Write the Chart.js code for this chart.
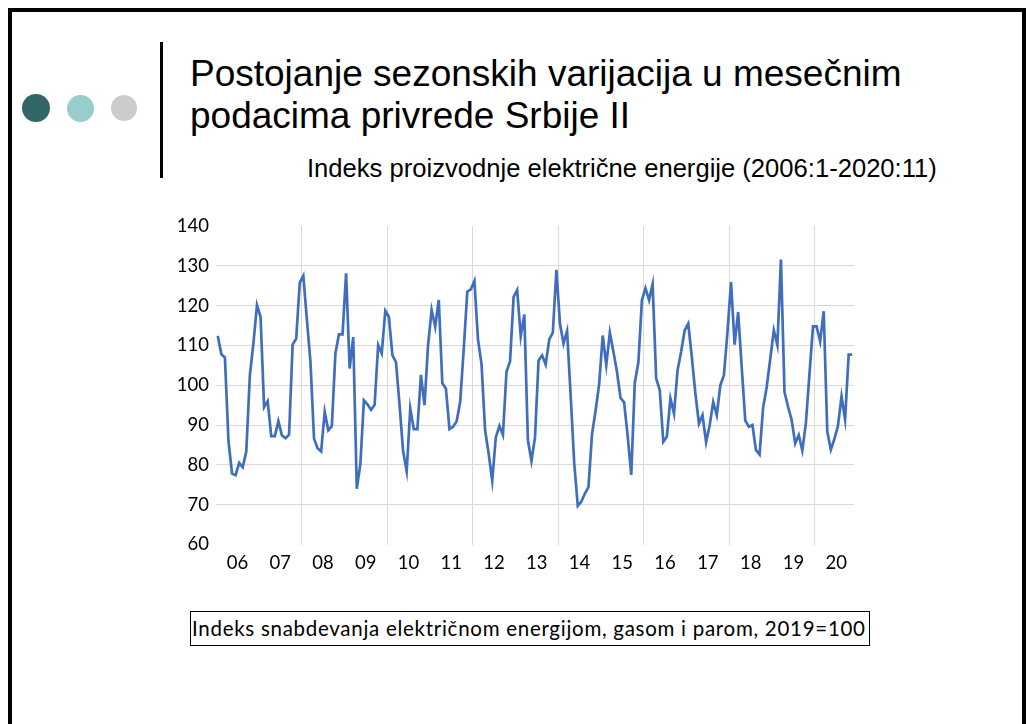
<!DOCTYPE html>
<html>
<head>
<meta charset="utf-8">
<script src="https://cdn.jsdelivr.net/npm/chart.js@4.4.1/dist/chart.umd.min.js"></script>
<style>
  html, body { margin: 0; padding: 0; }
  body { width: 1034px; height: 724px; overflow: hidden; background: #fff; position: relative; font-family: "Liberation Sans", Arial, sans-serif; }
  #frame { position: absolute; left: 8px; top: 8px; width: 1018px; height: 740px; border: 4px solid #000; border-bottom: none; box-sizing: border-box; }
  .dot { position: absolute; border-radius: 50%; }
  #bar { position: absolute; left: 160px; top: 42px; width: 3px; height: 136px; background: #000; }
  #title { position: absolute; left: 190px; top: 53px; font-size: 37px; line-height: 42px; color: #000; white-space: nowrap; }
  #subtitle { position: absolute; left: 307px; top: 153px; font-size: 25.6px; line-height: 30px; color: #000; white-space: nowrap; }
  #chartBox { position: absolute; left: 140px; top: 200px; width: 730px; height: 390px; }
  #note { position: absolute; left: 190px; top: 611px; width: 680px; height: 35px; border: 1px solid #000; box-sizing: border-box; font-family: Lato, "Open Sans", sans-serif; font-size: 20.5px; letter-spacing: 0.72px; line-height: 33px; padding-left: 1px; color: #000; white-space: nowrap; overflow: hidden; }
</style>
</head>
<body>
<div id="frame"></div>
<div class="dot" style="left:22px;top:94px;width:28px;height:28px;background:#336666"></div>
<div class="dot" style="left:67px;top:95px;width:27px;height:27px;background:#99CCCC"></div>
<div class="dot" style="left:111px;top:95px;width:26px;height:26px;background:#CCCCCC"></div>
<div id="bar"></div>
<div id="title">Postojanje sezonskih varijacija u mesečnim<br>podacima privrede Srbije II</div>
<div id="subtitle">Indeks proizvodnje električne energije (2006:1-2020:11)</div>
<div id="chartBox"><canvas id="c" width="730" height="390"></canvas></div>
<div id="note">Indeks snabdevanja električnom energijom, gasom i parom, 2019=100</div>
<script>
// Monthly index values, 2006:1 - 2020:11
const values2006 = [112.4, 107.8, 107.0, 86.0, 77.8, 77.4, 80.5, 79.4, 83.4, 102.5, 110.5, 120.1];
const values2007 = [117.2, 94.5, 96.0, 87.2, 87.2, 91.0, 87.4, 86.7, 87.6, 110.2, 111.7, 125.8];
const values2008 = [127.5, 116.5, 105.9, 86.6, 84.2, 83.4, 93.3, 88.7, 89.7, 108.0, 112.8, 112.8];
const values2009 = [128.1, 104.2, 112.1, 74.0, 80.2, 96.2, 95.2, 93.8, 95.1, 110.1, 108.0, 118.7];
const values2010 = [117.2, 107.5, 105.8, 95.0, 83.4, 78.4, 94.2, 89.0, 89.0, 102.6, 95.0, 110.1];
const values2011 = [118.9, 114.7, 121.4, 100.5, 99.2, 89.0, 89.6, 90.9, 95.7, 109.0, 123.5, 124.1];
const values2012 = [126.2, 111.5, 105.3, 88.7, 82.8, 76.0, 86.9, 89.8, 87.5, 103.4, 106.0, 122.2];
const values2013 = [123.9, 112.3, 117.8, 86.3, 81.0, 86.9, 106.2, 107.5, 105.2, 111.5, 113.2, 129.0];
const values2014 = [115.5, 110.5, 113.6, 97.5, 80.5, 69.7, 70.8, 72.8, 74.4, 87.7, 93.6, 100.3];
const values2015 = [112.5, 105.1, 113.2, 108.4, 103.4, 96.8, 95.7, 87.3, 77.5, 100.7, 105.7, 121.4];
const values2016 = [124.4, 121.4, 125.4, 101.7, 98.8, 85.8, 87.1, 96.7, 92.9, 103.8, 108.4, 113.8];
const values2017 = [115.5, 107.1, 97.9, 90.4, 92.5, 85.7, 89.9, 95.8, 92.5, 100.0, 102.5, 113.4];
const values2018 = [125.9, 110.2, 118.4, 104.5, 91.1, 89.6, 90.0, 83.7, 82.6, 94.4, 99.5, 106.6];
const values2019 = [113.8, 110.1, 131.6, 98.3, 94.6, 91.3, 85.4, 87.5, 83.6, 90.5, 102.8, 114.8];
const values2020 = [114.8, 111.0, 118.6, 88.4, 83.8, 86.5, 89.8, 97.2, 91.4, 107.7, 107.7];

const yearLabels = ['06','07','08','09','10','11','12','13','14','15','16','17','18','19','20'];
const yTickValues = [60, 70, 80, 90, 100, 110, 120, 130, 140];

const values = [].concat(values2006, values2007, values2008, values2009, values2010,
  values2011, values2012, values2013, values2014, values2015, values2016, values2017,
  values2018, values2019, values2020);

const labelPos = yearLabels.map((_, k) => 5.5 + 12 * k);
const gridPos = [];
for (let k = 0; k < yearLabels.length; k += 2) { const p = 23.5 + 12 * k; if (p < values.length) gridPos.push(p); }

const tickFont = { family: 'Lato', size: 18.5 };

new Chart(document.getElementById('c'), {
  type: 'line',
  data: {
    datasets: [{
      data: values.map((v, i) => ({ x: i, y: v })),
      borderColor: '#3F6EBF',
      borderWidth: 2.7,
      pointRadius: 0,
      tension: 0,
      fill: false
    }]
  },
  options: {
    responsive: false,
    devicePixelRatio: 1,
    animation: false,
    layout: { padding: { top: 26, right: 16, left: 0, bottom: 0 } },
    plugins: { legend: { display: false }, tooltip: { enabled: false }, title: { display: false } },
    scales: {
      x: {
        type: 'linear',
        min: -0.5,
        max: values.length - 0.5,
        afterBuildTicks: (s) => {
          s.ticks = labelPos.concat(gridPos).sort((a, b) => a - b).map(v => ({ value: v }));
        },
        afterFit: (s) => { s.height = 45.5; },
        ticks: {
          autoSkip: false, maxRotation: 0, minRotation: 0, padding: 7, color: '#000', font: tickFont,
          callback: (v) => { const k = (v - 5.5) / 12; return Number.isInteger(k) ? yearLabels[k] : ''; }
        },
        grid: {
          drawTicks: false,
          lineWidth: 1,
          color: (c) => (c.tick && gridPos.includes(c.tick.value)) ? '#d9d9d9' : 'rgba(0,0,0,0)'
        },
        border: { display: false }
      },
      y: {
        min: yTickValues[0],
        max: yTickValues[yTickValues.length - 1],
        afterBuildTicks: (s) => { s.ticks = yTickValues.map(v => ({ value: v })); },
        afterFit: (s) => { s.width = 76; },
        ticks: { padding: 7, color: '#000', font: tickFont },
        grid: {
          drawTicks: false,
          lineWidth: 1,
          color: (c) => (c.tick && c.tick.value > 60 && c.tick.value < 140) ? '#d9d9d9' : 'rgba(0,0,0,0)'
        },
        border: { display: false }
      }
    }
  }
});
</script>
</body>
</html>
